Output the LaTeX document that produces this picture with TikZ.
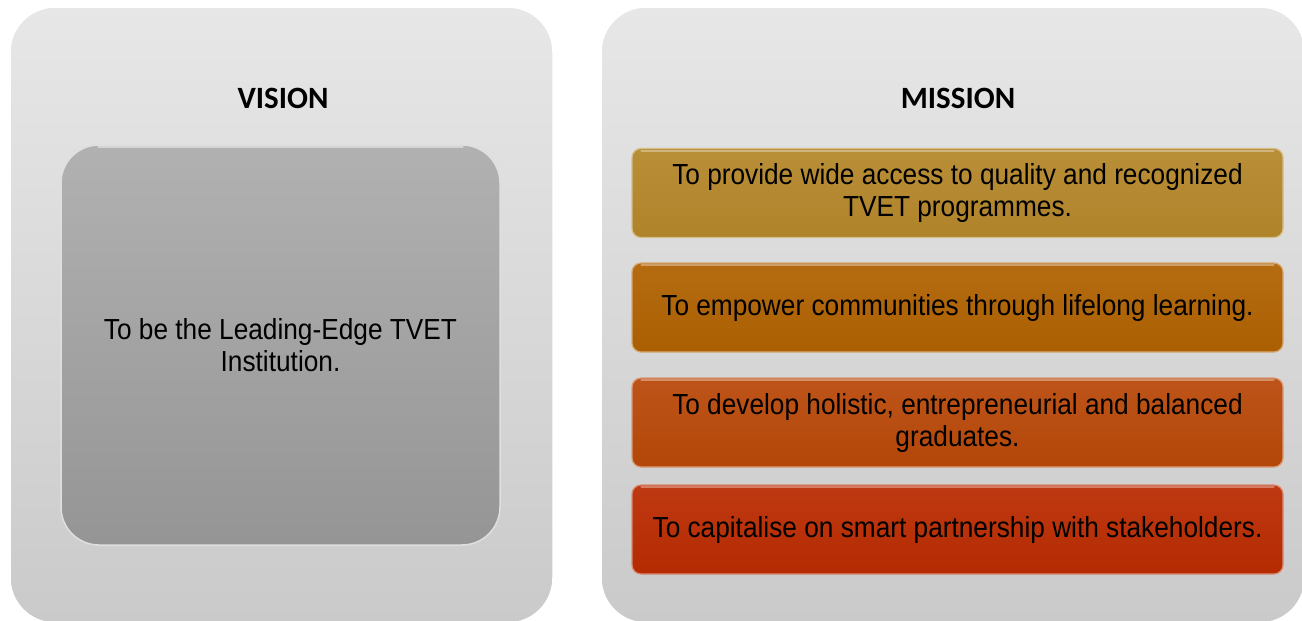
\documentclass[tikz,border=0pt]{standalone}
\usepackage{fontspec}
\setmainfont{Liberation Sans}[FakeStretch=0.905]
\newfontfamily\titlefont{Carlito}
\usepackage{tikz}
\usetikzlibrary{calc}

\definecolor{panelTop}{HTML}{E7E7E7}
\definecolor{panelBot}{HTML}{CACACA}
\definecolor{visionTop}{HTML}{B1B1B1}
\definecolor{visionBot}{HTML}{959595}
\definecolor{missGold}{HTML}{B4872B}
\definecolor{missOrange}{HTML}{B06202}
\definecolor{missRust}{HTML}{B9490A}
\definecolor{missRed}{HTML}{BA2C02}

\begin{document}
\begin{tikzpicture}[x=1pt,y=-1pt,
    panel/.style={draw=white, line width=1.5pt, rounded corners=45pt,
        top color=panelTop, bottom color=panelBot},
    heading/.style={font=\titlefont\bfseries\fontsize{31}{36}\selectfont},
    bodytext/.style={font=\fontsize{29}{32}\selectfont, align=center},
    missionbox/.style={bodytext, rounded corners=9pt, minimum width=651pt,
        minimum height=89pt, line width=1.2pt, draw=#1!55!white,
        top color=#1!94!white, bottom color=#1!97!black}
]
    \def\mmid{957.5}

    \clip (0,0) rectangle (1302,621);
    \fill[white] (0,0) rectangle (1302,621);

    % Background Panels
    \draw[panel] (10,7) rectangle (553,623);
    \draw[panel] (601,7) rectangle (1305,623);

    % Vision
    \node[heading] (visionTitle) at (283,98) {VISION};
    \node[bodytext, minimum width=439pt, minimum height=400pt,
        rounded corners=38pt, draw=white!75!gray, line width=1.5pt,
        top color=visionTop, bottom color=visionBot]
        (visionBox) at (280.5,345) {To be the Leading-Edge TVET\\Institution.};

    % Mission
    \node[heading] (missionTitle) at (958,98) {MISSION};
    \node[missionbox=missGold] (mission1) at (\mmid,193)
        {To provide wide access to quality and recognized\\TVET programmes.};
    \node[missionbox=missOrange] (mission2) at (\mmid,307.5)
        {To empower communities through lifelong learning.};
    \node[missionbox=missRust] (mission3) at (\mmid,422.5)
        {To develop holistic, entrepreneurial and balanced\\graduates.};
    \node[missionbox=missRed] (mission4) at (\mmid,529.5)
        {To capitalise on smart partnership with stakeholders.};

    % Gloss on top edges
    \foreach \m in {mission1,mission2,mission3,mission4}
        \draw[white, opacity=0.35, line width=2pt, line cap=round]
            ($(\m.north west)+(10,3)$) -- ($(\m.north east)+(-10,3)$);
    \draw[white, opacity=0.45, line width=2pt, line cap=round]
        ($(visionBox.north west)+(38,3)$) -- ($(visionBox.north east)+(-38,3)$);

\end{tikzpicture}
\end{document}
